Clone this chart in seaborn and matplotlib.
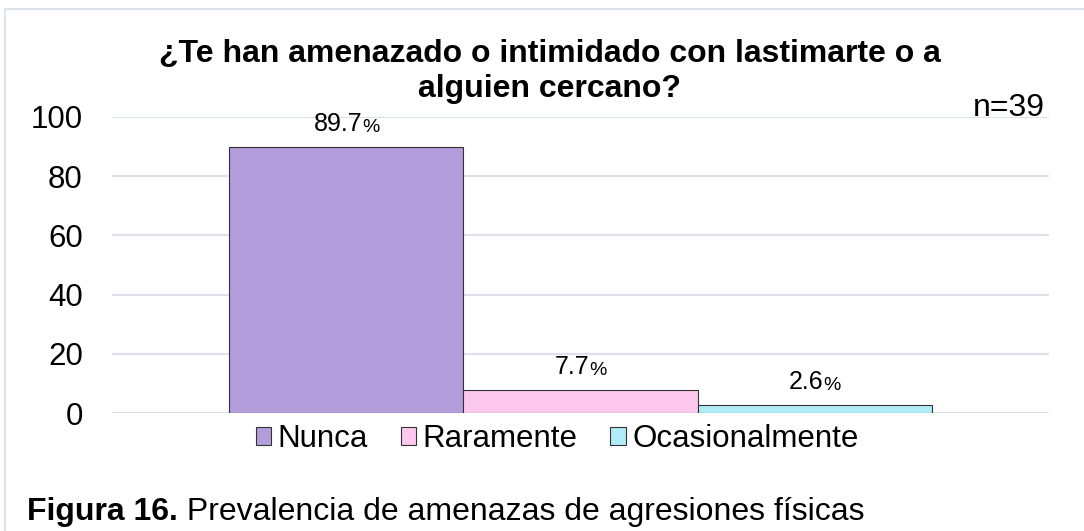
import matplotlib
matplotlib.use("Agg")
import matplotlib.pyplot as plt
import pandas as pd
import seaborn as sns
from matplotlib.patches import Rectangle

# Datos del gráfico
respuestas = ["Nunca", "Raramente", "Ocasionalmente"]
porcentajes = [89.7, 7.7, 2.6]
colores = ["#b39ddb", "#fcc8ee", "#b0ebf8"]
yticks = [0, 20, 40, 60, 80, 100]
titulo = "¿Te han amenazado o intimidado con lastimarte o a\nalguien cercano?"
n_texto = "n=39"
fig_num = "Figura 16."
fig_desc = " Prevalencia de amenazas de agresiones físicas"

sns.set_style("white")
plt.rcParams["font.family"] = ["Liberation Sans", "DejaVu Sans"]
plt.rcParams["text.color"] = "black"
plt.rcParams["ytick.color"] = "black"

df = pd.DataFrame({"grupo": [""] * len(respuestas),
                   "respuesta": respuestas,
                   "porcentaje": porcentajes})

fig = plt.figure(figsize=(10.84, 5.31), dpi=100)
ax = fig.add_axes([0.1033, 0.2222, 0.8644, 0.5575])

sns.barplot(data=df, x="grupo", y="porcentaje", hue="respuesta",
            hue_order=respuestas, palette=colores, saturation=1, width=0.75,
            edgecolor="#333333", linewidth=0.8, ax=ax, legend=True)

ax.set_xlim(-0.5, 0.5)
ax.set_ylim(0, 100)
ax.set_yticks(yticks)
ax.tick_params(axis="y", labelsize=22.5, length=0, pad=21)
ax.set_xticks([])
ax.set_xlabel("")
ax.set_ylabel("")
ax.yaxis.grid(True, color="#dde2ea", linewidth=1.5)
ax.set_axisbelow(True)
for s in ax.spines.values():
    s.set_visible(False)

# Etiquetas: número grande y "%" más pequeño
for cont in ax.containers:
    for barra, v in zip(cont.patches, cont.datavalues):
        xc = barra.get_x() + barra.get_width() / 2
        num = ax.annotate(f"{v:.1f}", xy=(xc, barra.get_height()),
                          xytext=(-6, 12), textcoords="offset points",
                          ha="center", va="baseline", fontsize=18)
        ax.annotate("%", xy=(1, 0), xycoords=num, ha="left", va="bottom",
                    fontsize=14)

# Leyenda abajo
ax.legend(loc="center", bbox_to_anchor=(557 / 1084, 1 - 439 / 531),
          bbox_transform=fig.transFigure, ncol=3, frameon=False,
          fontsize=22.5, handlelength=0.5, handleheight=0.5,
          handletextpad=0.2, columnspacing=1.05, borderaxespad=0)

fig.text(550 / 1084, 1 - 97 / 531, titulo, ha="center", va="baseline",
         fontsize=23, fontweight="bold", linespacing=1.2)
fig.text(1045 / 1084, 1 - 116 / 531, n_texto, ha="right", va="baseline",
         fontsize=23)

# Marco del gráfico
fig.add_artist(Rectangle((5 / 1084, -0.1), 1.2, 1.1 - 9 / 531,
                         transform=fig.transFigure, fill=False,
                         edgecolor="#dde3ea", linewidth=1.5))

t = fig.text(27 / 1084, 1 - 520 / 531, fig_num, ha="left", va="baseline",
             fontsize=23, fontweight="bold")
fig.canvas.draw()
ax.annotate(fig_desc, xy=(1, 0), xycoords=t, va="bottom", ha="left",
            fontsize=23, annotation_clip=False)

fig.savefig("out.png", dpi=100)
